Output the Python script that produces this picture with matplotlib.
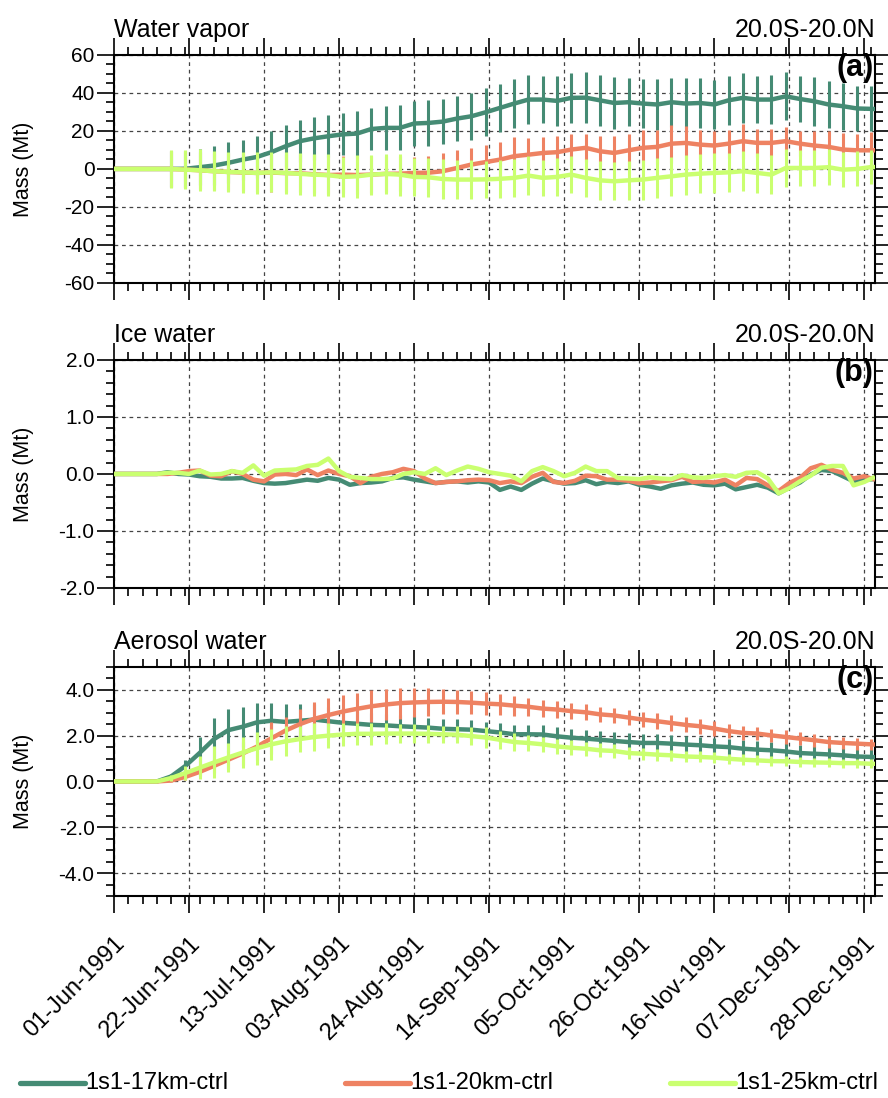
import numpy as np
import matplotlib.pyplot as plt
from matplotlib.ticker import FixedLocator, MultipleLocator, FormatStrFormatter
from matplotlib.lines import Line2D

plt.rcParams['font.family'] = ['Liberation Sans', 'DejaVu Sans']
plt.rcParams['axes.unicode_minus'] = False

# --- time axis (days since 01-Jun-1991) ---
days = np.append(np.arange(0, 213, 4), 213)
bar_days = np.arange(16, 213, 4)
days_ice = np.arange(0, 214, 3)

date_ticks = np.arange(0, 211, 21)
date_labels = ["01-Jun-1991", "22-Jun-1991", "13-Jul-1991", "03-Aug-1991",
               "24-Aug-1991", "14-Sep-1991", "05-Oct-1991", "26-Oct-1991",
               "16-Nov-1991", "07-Dec-1991", "28-Dec-1991"]

runs = ["1s1-17km-ctrl", "1s1-20km-ctrl", "1s1-25km-ctrl"]
colors = ["#458B74", "#EE8262", "#CAFF70"]

# --- water vapor (Mt) ---
wv_17 = [0, 0, 0, 0, 0, 0.1, 0.9, 1.8, 3.2, 4.9,
         6.3, 8.8, 11.9, 14.6, 16.1, 17.2, 18.2, 18.6, 21.0, 21.6,
         21.6, 23.9, 24.2, 24.9, 26.5, 27.7, 29.8, 32.1, 34.4, 36.5,
         36.5, 35.8, 37.4, 37.5, 36.1, 34.7, 35.1, 34.4, 33.9, 35.1,
         34.4, 34.7, 33.9, 36.1, 37.4, 36.5, 36.5, 38.2, 36.8, 35.6,
         33.9, 33.0, 31.8, 31.6, 31.5]
wv_20 = [0, 0, 0, 0, 0, -0.3, -0.7, -1.2, -1.6, -1.9,
         -2.1, -1.9, -2.2, -2.3, -2.8, -3.2, -3.0, -3.2, -3.0, -2.6,
         -2.5, -2.1, -2.0, -1.2, 0.5, 2.3, 3.6, 4.9, 6.7, 7.5,
         8.4, 8.8, 10.2, 11.1, 9.3, 8.4, 9.8, 11.1, 11.6, 13.3,
         13.7, 12.8, 12.3, 13.3, 14.6, 13.7, 13.7, 14.6, 13.3, 12.3,
         11.6, 10.2, 9.8, 9.8, 9.8]
wv_25 = [0, 0, 0, 0, 0, -0.4, -0.7, -1.2, -1.6, -1.8,
         -2.1, -1.8, -2.1, -2.6, -3.0, -3.3, -4.2, -3.9, -3.0, -2.6,
         -3.0, -4.2, -4.4, -5.3, -5.6, -5.6, -5.5, -5.2, -4.7, -3.5,
         -4.7, -4.2, -3.0, -4.7, -6.0, -6.5, -6.0, -5.6, -4.7, -3.9,
         -3.0, -2.5, -2.1, -1.8, -1.2, -2.1, -3.0, 0.5, 0.5, 0.5,
         0.9, -0.4, 0.0, 1.0, 1.0]
wv_17_err = [9.5, 9.5, 9.6, 10.5, 10.8, 10.5, 11.0, 11.0, 11.0, 11.0,
             11.3, 11.0, 11.0, 12.0, 11.3, 11.7, 11.8, 12.0, 12.0, 11.8,
             11.8, 12.3, 12.6, 12.6, 13.0, 12.7, 12.2, 13.0, 13.0, 13.5,
             13.5, 13.7, 12.5, 13.0, 13.4, 12.9, 13.4, 13.0, 13.0, 13.0,
             13.0, 12.5, 12.9, 12.7, 12.3, 12.9, 12.3, 12.3, 11.8, 11.9]
wv_20_err = [9.5, 9.5, 9.6, 9.8, 9.8, 9.9, 10.0, 10.0, 10.0, 10.1,
             10.0, 10.0, 9.9, 9.8, 9.6, 9.5, 9.2, 8.4, 8.7, 9.6,
             9.7, 8.9, 9.2, 9.5, 10.0, 9.0, 8.2, 8.4, 8.0, 7.5,
             7.9, 8.8, 8.8, 9.3, 9.1, 10.0, 9.1, 7.6, 7.5, 7.4,
             9.3, 7.5, 7.5, 7.5, 6.5, 7.5, 8.2, 8.7, 8.8, 9.5]
wv_25_err = [9.9, 10.1, 11.0, 10.5, 10.7, 10.7, 11.0, 10.5, 11.0, 11.0,
             11.0, 11.0, 10.5, 11.4, 10.5, 10.5, 11.0, 9.9, 10.3, 10.4,
             10.2, 10.2, 9.9, 9.9, 10.1, 10.4, 9.6, 10.1, 9.8, 10.1,
             10.1, 10.1, 10.4, 10.5, 10.5, 10.4, 10.5, 10.3, 10.5, 10.1,
             10.5, 10.5, 10.1, 10.1, 9.6, 9.6, 9.6, 9.2, 9.2, 8.8]

# --- ice water (Mt) ---
iw_17 = [0, 0, 0, 0, 0, 0.03, 0.0, -0.01, -0.04, -0.05,
         -0.08, -0.08, -0.07, -0.12, -0.16, -0.17, -0.16, -0.13, -0.10, -0.12,
         -0.07, -0.10, -0.19, -0.16, -0.15, -0.13, -0.07, -0.06, -0.10, -0.13,
         -0.16, -0.14, -0.13, -0.15, -0.13, -0.15, -0.28, -0.22, -0.28, -0.17,
         -0.08, -0.13, -0.17, -0.16, -0.11, -0.18, -0.14, -0.16, -0.13, -0.19,
         -0.22, -0.26, -0.20, -0.17, -0.15, -0.19, -0.20, -0.17, -0.27, -0.23,
         -0.19, -0.24, -0.34, -0.24, -0.15, -0.01, 0.07, 0.05, -0.04, -0.13,
         -0.10, -0.09]
iw_20 = [0, 0, 0, 0, 0, 0, 0.02, 0.05, 0.06, -0.03,
         -0.04, 0.05, 0.0, -0.10, -0.13, -0.01, 0.0, -0.02, 0.08, -0.02,
         0.06, 0.0, -0.04, -0.16, -0.05, 0.0, 0.03, 0.09, 0.05, -0.08,
         -0.16, -0.14, -0.13, -0.11, -0.10, -0.11, -0.16, -0.13, -0.16, -0.05,
         0.02, -0.14, -0.16, -0.12, -0.03, -0.04, -0.10, -0.10, -0.12, -0.16,
         -0.15, -0.13, -0.11, -0.05, -0.14, -0.13, -0.15, -0.10, -0.20, -0.07,
         -0.09, -0.20, -0.30, -0.16, -0.07, 0.10, 0.16, 0.07, 0.02, -0.08,
         -0.04, -0.10]
iw_25 = [0, 0, 0, 0, 0, 0.02, 0.02, 0.0, 0.06, -0.01,
         0.0, 0.05, 0.02, 0.15, -0.03, 0.06, 0.07, 0.08, 0.14, 0.16,
         0.27, 0.05, -0.05, -0.07, -0.09, -0.09, -0.08, 0.0, 0.03, 0.0,
         0.10, -0.02, 0.06, 0.13, 0.09, 0.03, 0.0, -0.03, -0.13, 0.05,
         0.12, 0.05, -0.04, 0.02, 0.13, 0.05, 0.05, -0.07, -0.08, -0.09,
         -0.06, -0.08, -0.09, -0.02, -0.06, -0.07, -0.04, -0.02, -0.05, 0.02,
         0.03, -0.08, -0.34, -0.25, -0.13, -0.03, 0.11, 0.14, 0.14, -0.20,
         -0.14, -0.05]

# --- aerosol water (Mt) ---
aw_17 = [0, 0, 0, 0, 0.22, 0.68, 1.25, 1.85, 2.24, 2.39,
         2.58, 2.65, 2.6, 2.65, 2.7, 2.63, 2.56, 2.52, 2.47, 2.45,
         2.41, 2.38, 2.35, 2.3, 2.28, 2.26, 2.2, 2.14, 2.06, 2.06,
         2.05, 1.97, 1.91, 1.87, 1.82, 1.77, 1.72, 1.68, 1.68, 1.65,
         1.61, 1.58, 1.53, 1.5, 1.43, 1.39, 1.36, 1.31, 1.24, 1.21,
         1.18, 1.14, 1.09, 1.07, 1.06]
aw_20 = [0, 0, 0, 0, 0.04, 0.2, 0.42, 0.68, 0.95, 1.22,
         1.52, 1.88, 2.22, 2.5, 2.73, 2.9, 3.05, 3.17, 3.28, 3.36,
         3.42, 3.45, 3.47, 3.48, 3.47, 3.44, 3.4, 3.37, 3.31, 3.26,
         3.18, 3.14, 3.07, 3.02, 2.93, 2.88, 2.79, 2.7, 2.63, 2.55,
         2.47, 2.41, 2.31, 2.2, 2.12, 2.09, 2.01, 1.94, 1.87, 1.8,
         1.72, 1.68, 1.65, 1.62, 1.61]
aw_25 = [0, 0, 0, 0, 0.15, 0.37, 0.6, 0.83, 1.05, 1.26,
         1.45, 1.62, 1.75, 1.85, 1.94, 2.0, 2.05, 2.08, 2.08, 2.09,
         2.09, 2.09, 2.08, 2.06, 2.04, 1.98, 1.92, 1.82, 1.72, 1.68,
         1.62, 1.53, 1.47, 1.43, 1.36, 1.33, 1.24, 1.21, 1.17, 1.14,
         1.09, 1.07, 1.04, 0.99, 0.95, 0.92, 0.89, 0.88, 0.85, 0.83,
         0.82, 0.8, 0.8, 0.77, 0.77]
aw_17_err = [0.1, 0.25, 0.67, 0.92, 0.94, 0.88, 0.86, 0.78, 0.76, 0.74,
             0.68, 0.62, 0.58, 0.55, 0.52, 0.5, 0.48, 0.46, 0.44, 0.44,
             0.43, 0.42, 0.41, 0.4, 0.4, 0.4, 0.4, 0.39, 0.39, 0.39,
             0.39, 0.38, 0.38, 0.38, 0.38, 0.38, 0.37, 0.37, 0.37, 0.37,
             0.37, 0.37, 0.36, 0.36, 0.36, 0.36, 0.36, 0.36, 0.35, 0.35]
aw_20_err = [0.05, 0.12, 0.2, 0.3, 0.4, 0.5, 0.6, 0.7, 0.6, 0.65,
             0.72, 0.73, 0.72, 0.7, 0.7, 0.68, 0.68, 0.63, 0.6, 0.55,
             0.53, 0.5, 0.52, 0.46, 0.44, 0.4, 0.38, 0.38, 0.36, 0.34,
             0.34, 0.33, 0.32, 0.33, 0.34, 0.33, 0.33, 0.32, 0.32, 0.31,
             0.31, 0.3, 0.3, 0.29, 0.29, 0.28, 0.28, 0.27, 0.26, 0.25]
aw_25_err = [0.15, 0.3, 0.5, 0.7, 0.65, 0.68, 0.73, 0.68, 0.66, 0.55,
             0.6, 0.55, 0.5, 0.48, 0.48, 0.44, 0.42, 0.4, 0.38, 0.36,
             0.36, 0.38, 0.44, 0.4, 0.38, 0.36, 0.34, 0.33, 0.32, 0.3,
             0.3, 0.29, 0.28, 0.27, 0.26, 0.25, 0.25, 0.24, 0.24, 0.23,
             0.23, 0.22, 0.22, 0.22, 0.21, 0.21, 0.2, 0.2, 0.2, 0.2]


def draw_panel(ax, x, series, errs, ylim, major, minor, fmt, title, tag):
    z = 3
    for vals, err, color in zip(series, errs, colors):
        vals = np.asarray(vals, dtype=float)
        if err is not None:
            err = np.asarray(err)
            mid = vals[np.searchsorted(x, bar_days)]
            ax.vlines(bar_days, mid - err, mid + err, color=color, lw=2.2, zorder=z)
        ax.plot(x, vals, color=color, lw=3.2, solid_capstyle='butt', zorder=z + 1)
        z += 2

    ax.set_xlim(0, 213)
    ax.set_ylim(*ylim)
    ax.xaxis.set_major_locator(FixedLocator(date_ticks))
    ax.xaxis.set_minor_locator(MultipleLocator(4))
    ax.yaxis.set_major_locator(MultipleLocator(major))
    ax.yaxis.set_minor_locator(MultipleLocator(minor))
    ax.yaxis.set_major_formatter(FormatStrFormatter(fmt))
    ax.tick_params(which='both', direction='out', top=True, right=True, width=1.2)
    ax.tick_params(which='major', length=12, labelsize=15, pad=2)
    ax.tick_params(which='minor', length=6)
    ax.tick_params(axis='x', labelbottom=False)
    for s in ax.spines.values():
        s.set_linewidth(1.5)
    ax.grid(True, which='major', color='#444444', ls=(0, (3, 3)), lw=0.9)

    ax.set_ylabel("Mass (Mt)", fontsize=15.5)
    ax.yaxis.set_label_coords(-0.105, 0.5)
    ax.annotate(title, xy=(0, 1), xycoords='axes fraction', xytext=(0, 13),
                textcoords='offset points', ha='left', va='baseline', fontsize=18)
    ax.annotate("20.0S-20.0N", xy=(1, 1), xycoords='axes fraction', xytext=(0, 13),
                textcoords='offset points', ha='right', va='baseline', fontsize=18)
    ax.text(0.998, 1.008, tag, transform=ax.transAxes, ha='right', va='top',
            fontsize=22, fontweight='bold', zorder=10)


fig = plt.figure(figsize=(8.88, 10.98), dpi=100)
ax_a = fig.add_axes([0.1284, 0.7423, 0.857, 0.2077])
ax_b = fig.add_axes([0.1284, 0.4645, 0.857, 0.2077])
ax_c = fig.add_axes([0.1284, 0.1840, 0.857, 0.2086])

draw_panel(ax_a, days, [wv_17, wv_20, wv_25], [wv_17_err, wv_20_err, wv_25_err],
           (-60, 60), 20, 5, '%d', "Water vapor", "(a)")
draw_panel(ax_b, days_ice, [iw_17, iw_20, iw_25], [None, None, None],
           (-2, 2), 1.0, 0.2, '%.1f', "Ice water", "(b)")
draw_panel(ax_c, days, [aw_17, aw_20, aw_25], [aw_17_err, aw_20_err, aw_25_err],
           (-5, 5), 2.0, 0.5, '%.1f', "Aerosol water", "(c)")

ax_c.tick_params(axis='x', labelbottom=True, pad=14)
ax_c.set_xticklabels(date_labels, rotation=45, ha='right', va='top',
                     rotation_mode='anchor', fontsize=17)

# legend strip along the bottom
for i, (name, color) in enumerate(zip(runs, colors)):
    x0 = 0.0225 + i * 0.366
    fig.add_artist(Line2D([x0, x0 + 0.073], [0.0137, 0.0137], color=color, lw=3.8,
                          solid_capstyle='round', transform=fig.transFigure))
    fig.text(x0 + 0.073, 0.0137, name, ha='left', va='center', fontsize=17)

fig.savefig("out.png", dpi=100)
